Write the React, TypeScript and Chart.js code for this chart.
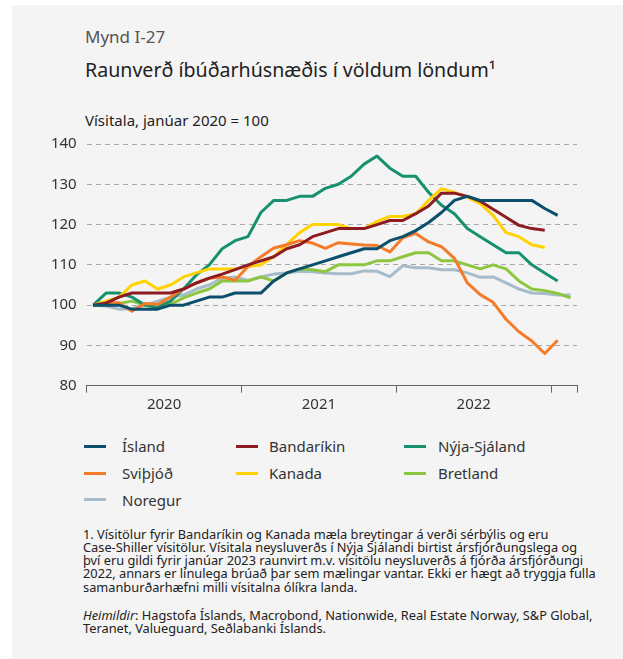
import React, { useEffect, useRef } from 'react';
import { Chart, registerables } from 'chart.js';

Chart.register(...registerables);

const months = [
  '2020-01', '2020-02', '2020-03', '2020-04', '2020-05', '2020-06', '2020-07', '2020-08', '2020-09', '2020-10', '2020-11', '2020-12',
  '2021-01', '2021-02', '2021-03', '2021-04', '2021-05', '2021-06', '2021-07', '2021-08', '2021-09', '2021-10', '2021-11', '2021-12',
  '2022-01', '2022-02', '2022-03', '2022-04', '2022-05', '2022-06', '2022-07', '2022-08', '2022-09', '2022-10', '2022-11', '2022-12',
  '2023-01', '2023-02',
];

const yearLabels = ['2020', '2021', '2022'];
const yTicks = [80, 90, 100, 110, 120, 130, 140];

const island = [100, 100, 100, 99, 99, 99, 100, 100, 101, 102, 102, 103, 103, 103, 106, 108, 109, 110, 111, 112, 113, 114, 114, 116, 117, 118.5, 120.5, 123, 126, 127, 126, 126, 126, 126, 126, 124, 122.3, null];
const bandarikin = [100, 100.5, 102, 103, 103, 103, 103, 104, 105.5, 106.7, 107.7, 108.8, 110, 111, 112, 114, 115, 117, 118, 119, 119, 119, 120, 121, 121, 122.7, 124.6, 127.8, 127.8, 127, 125.8, 123.8, 121.8, 119.8, 119, 118.6, null, null];
const svithjod = [100, 100.6, 100.6, 98.5, 100.4, 100.2, 102, 104, 105.5, 106.7, 107, 106.2, 109.6, 112, 114.2, 115, 116, 115.4, 114.1, 115.5, 115.2, 114.9, 114.8, 113.2, 116.7, 117.8, 115.7, 114.5, 111.6, 105.5, 102.6, 100.7, 96.5, 93.4, 91.1, 88, 91.3, null];
const kanada = [100, 101, 102, 105, 106, 104, 105, 107, 108, 109, 109, 109, 109.5, 110, 112, 115, 118, 120, 120, 120, 119, 119, 120.8, 122, 122, 122.7, 126, 128.9, 128, 126.8, 125.2, 122.3, 118, 117, 115, 114.3, null, null];
const nyjaSjaland = [100, 103, 103, 102, 100, 99.5, 101, 104, 107.5, 110, 114, 116, 117, 123, 126, 126, 127, 127, 129, 130, 132, 135, 137, 134, 132, 132, 128, 124.8, 122.7, 119, 117, 115, 113, 113, 110, 108, 106, null];
const bretland = [100, 100, 100.4, 101, 100, 99.3, 100.2, 101.8, 103, 104, 106, 106, 106, 107, 106, 108, 109, 108.8, 108.3, 110, 110, 110, 111, 111, 112, 113, 113, 111, 111, 110, 109, 110, 109, 106, 104, 103.6, 102.9, 101.8];
const noregur = [100, 99.8, 99, 99.1, 100, 101, 102, 102.5, 104, 105, 106.7, 107, 106.1, 107, 107.7, 108, 108.4, 108.3, 108, 107.8, 107.8, 108.5, 108.4, 107.1, 109.8, 109.3, 109.3, 108.8, 108.8, 108, 106.9, 107, 105.5, 104, 103, 102.9, 102.5, 102.5];

const seriesNames = ['Ísland', 'Bandaríkin', 'Sviþjóð', 'Kanada', 'Nýja-Sjáland', 'Bretland', 'Noregur'];
const seriesData = [island, bandarikin, svithjod, kanada, nyjaSjaland, bretland, noregur];
const seriesColors = ['#0b4f6c', '#8c1c22', '#f47b2a', '#ffd200', '#17906f', '#8dc63f', '#a6bccb'];

const legendColumns = [
  ['Ísland', 'Sviþjóð', 'Noregur'],
  ['Bandaríkin', 'Kanada'],
  ['Nýja-Sjáland', 'Bretland'],
];

const footnoteLines = [
  '1. Vísitölur fyrir Bandaríkin og Kanada mæla breytingar á verði sérbýlis og eru',
  'Case-Shiller vísitölur. Vísitala neysluverðs í Nýja Sjálandi birtist ársfjórðungslega og',
  'því eru gildi fyrir janúar 2023 raunvirt m.v. vísitölu neysluverðs á fjórða ársfjórðungi',
  '2022, annars er línulega brúað þar sem mælingar vantar. Ekki er hægt að tryggja fulla',
  'samanburðarhæfni milli vísitalna ólíkra landa.',
];

const FONT = "'Noto Sans', 'Open Sans', sans-serif";

export default function App() {
  const ref = useRef<HTMLCanvasElement>(null);

  useEffect(() => {
    if (!ref.current) return;
    const yearAt: Record<number, string> = { 5: yearLabels[0], 17: yearLabels[1], 29: yearLabels[2] };
    const chart = new Chart(ref.current, {
      type: 'line',
      data: {
        labels: months,
        datasets: seriesNames.map((name, i) => ({
          label: name,
          data: seriesData[i],
          borderColor: seriesColors[i],
          backgroundColor: seriesColors[i],
          borderWidth: 3,
          pointRadius: 0,
          pointHoverRadius: 0,
          tension: 0,
          fill: false,
          spanGaps: false,
          borderJoinStyle: 'round' as const,
        })),
      },
      options: {
        responsive: false,
        animation: false,
        events: [],
        layout: { padding: { left: 0, right: 46, top: 16.7, bottom: 0 } },
        plugins: { legend: { display: false }, tooltip: { enabled: false } },
        scales: {
          x: {
            type: 'category',
            offset: true,
            afterFit: (s: any) => { s.height = 34.3; },
            grid: {
              offset: true,
              drawOnChartArea: false,
              drawTicks: true,
              tickLength: 7,
              color: (ctx: any) => (ctx.index === undefined || ctx.index % 12 === 0 ? '#666' : 'rgba(0,0,0,0)'),
              tickColor: (ctx: any) => (ctx.index === undefined || ctx.index % 12 === 0 ? '#666' : 'rgba(0,0,0,0)'),
            },
            border: { display: true, color: '#666', width: 1 },
            ticks: {
              autoSkip: false,
              maxRotation: 0,
              minRotation: 0,
              padding: 3,
              labelOffset: 6.45,
              color: '#333',
              font: { family: FONT, size: 15 },
              callback: (_v: any, index: number) => yearAt[index] || '',
            },
          },
          y: {
            min: yTicks[0],
            max: yTicks[yTicks.length - 1],
            afterFit: (s: any) => { s.width = 74.7; },
            afterBuildTicks: (s: any) => { s.ticks = yTicks.map((v) => ({ value: v })); },
            grid: {
              drawTicks: false,
              lineWidth: 1,
              color: (ctx: any) => (ctx.tick && ctx.tick.value === yTicks[0] ? 'rgba(0,0,0,0)' : '#a8a8a8'),
            },
            border: { display: false, dash: [5, 4] },
            ticks: {
              padding: 10,
              color: '#333',
              font: { family: FONT, size: 15 },
            },
          },
        },
      },
    });
    return () => chart.destroy();
  }, []);

  const legendX = [[72, 110], [224, 257], [392, 426]];
  const legendRowY = [441, 468, 494.5];

  return (
    <div
      style={{
        position: 'absolute',
        left: 12,
        top: 5,
        width: 611,
        height: 654,
        background: '#f4f4f4',
        fontFamily: FONT,
        color: '#333',
        overflow: 'hidden',
      }}
    >
      <div style={{ position: 'absolute', left: 73, top: 21, fontSize: 17, lineHeight: '22px', color: '#555', whiteSpace: 'nowrap' }}>
        Mynd I-27
      </div>
      <div style={{ position: 'absolute', left: 73, top: 52, fontSize: 19.6, lineHeight: '26px', color: '#222', whiteSpace: 'nowrap' }}>
        Raunverð íbúðarhúsnæðis í völdum löndum¹
      </div>
      <div style={{ position: 'absolute', left: 73, top: 105, fontSize: 15, lineHeight: '20px', color: '#222', whiteSpace: 'nowrap' }}>
        Vísitala, janúar 2020 = 100
      </div>
      <canvas ref={ref} width={611} height={295} style={{ position: 'absolute', left: 0, top: 120, width: 611, height: 295 }} />
      {legendColumns.map((col, c) =>
        col.map((name, r) => {
          const idx = seriesNames.indexOf(name);
          return (
            <div key={name} style={{ position: 'absolute', left: legendX[c][0], top: legendRowY[r] - 10, height: 20, display: 'flex', alignItems: 'center', whiteSpace: 'nowrap' }}>
              <span style={{ display: 'inline-block', width: 22, height: 3, background: seriesColors[idx] }} />
              <span style={{ position: 'absolute', left: legendX[c][1] - legendX[c][0], fontSize: 15, lineHeight: '20px', color: '#333' }}>{name}</span>
            </div>
          );
        })
      )}
      <div style={{ position: 'absolute', left: 71, top: 522.6, fontSize: 12.8, lineHeight: '13.3px', color: '#222' }}>
        {footnoteLines.map((l, i) => (
          <div key={i} style={{ whiteSpace: 'nowrap' }}>{l}</div>
        ))}
      </div>
      <div style={{ position: 'absolute', left: 71, top: 604, fontSize: 12.8, lineHeight: '13.3px', color: '#222' }}>
        <div style={{ whiteSpace: 'nowrap' }}><i>Heimildir</i>: Hagstofa Íslands, Macrobond, Nationwide, Real Estate Norway, S&amp;P Global,</div>
        <div style={{ whiteSpace: 'nowrap' }}>Teranet, Valueguard, Seðlabanki Íslands.</div>
      </div>
    </div>
  );
}
